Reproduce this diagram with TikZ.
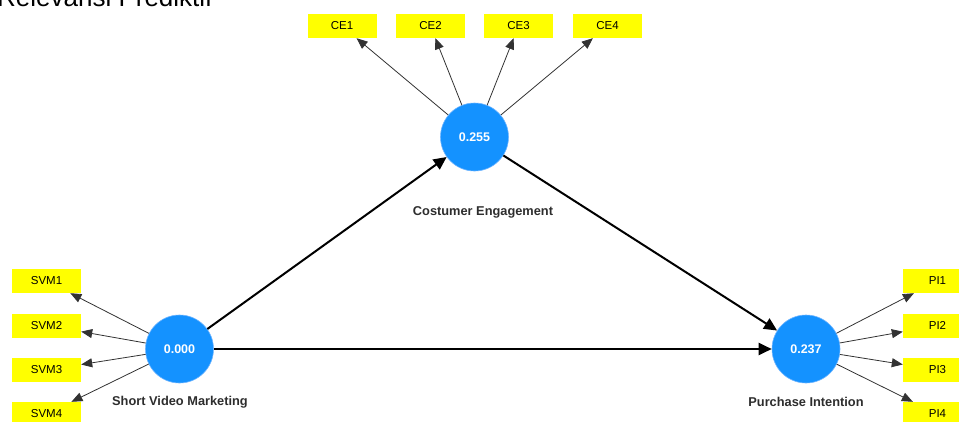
\documentclass[tikz,border=0pt]{standalone}
\usepackage{fontspec}
\setmainfont{Liberation Sans}
\usetikzlibrary{arrows.meta}
\definecolor{latentblue}{RGB}{20,146,255}
\definecolor{latentrim}{RGB}{110,180,255}
\definecolor{indyellow}{RGB}{255,255,0}
\definecolor{labelgray}{RGB}{45,45,45}
\definecolor{loadgray}{RGB}{50,50,50}
\tikzset{
  latent/.style={circle, minimum size=68pt, inner sep=0pt, fill=latentblue,
    draw=latentrim, line width=0.6pt, text=white, font=\fontsize{12.5}{14}\selectfont\bfseries},
  indicator/.style={rectangle, minimum width=69pt, minimum height=24pt, inner sep=0pt,
    fill=indyellow, font=\fontsize{11.5}{13}\selectfont},
  constructname/.style={font=\fontsize{12.8}{15}\selectfont\bfseries, text=labelgray},
  loading/.style={draw=loadgray, line width=0.8pt, -{Triangle[length=11pt,width=9pt]}},
  path/.style={draw=black, line width=2pt, -{Triangle[length=13pt,width=12pt]}}
}
\begin{document}
\begin{tikzpicture}[x=1pt,y=-1pt]
\useasboundingbox (0,0) rectangle (959,421);
\clip (0,0) rectangle (959,421);

% heading, partly outside the frame
\node[anchor=base west, inner sep=0pt, font=\fontsize{26}{31}\selectfont] (title) at (-3,6.5) {Relevansi Prediktif};

% latent constructs
\node[latent] (ce)  at (474.5,137) {0.255};
\node[latent] (svm) at (179.5,349) {0.000};
\node[latent] (pi)  at (806,349)   {0.237};

\node[constructname] (celab)  at (483,212) {Costumer Engagement};
\node[constructname] (svmlab) at (180,402) {Short Video Marketing};
\node[constructname] (pilab)  at (806,402) {Purchase Intention};

% indicators
\node[indicator] (ce1) at (342,26)   {CE1};
\node[indicator] (ce2) at (430.5,26) {CE2};
\node[indicator] (ce3) at (518.5,26) {CE3};
\node[indicator] (ce4) at (607.5,26) {CE4};

\node[indicator] (svm1) at (46.5,281)   {SVM1};
\node[indicator] (svm2) at (46.5,325.5) {SVM2};
\node[indicator] (svm3) at (46.5,370)   {SVM3};
\node[indicator] (svm4) at (46.5,414)   {SVM4};

\node[indicator] (pi1) at (937.5,281)   {PI1};
\node[indicator] (pi2) at (937.5,325.5) {PI2};
\node[indicator] (pi3) at (937.5,370)   {PI3};
\node[indicator] (pi4) at (937.5,414)   {PI4};

% outer loadings
\foreach \i in {1,...,4} {
  \draw[loading] (ce) -- (ce\i);
  \draw[loading] (svm) -- (svm\i);
  \draw[loading] (pi) -- (pi\i);
}

% structural paths
\draw[path] (svm) -- (ce);
\draw[path] (svm) -- (pi);
\draw[path] (ce) -- (pi);
\end{tikzpicture}
\end{document}
